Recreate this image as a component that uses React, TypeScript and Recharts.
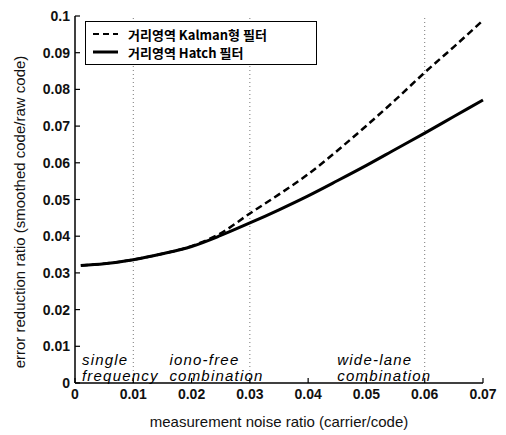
import { Legend, Line, LineChart, ReferenceDot, ReferenceLine, XAxis, YAxis } from 'recharts'

const noiseRatio = [0.001, 0.005, 0.01, 0.015, 0.02, 0.025, 0.03, 0.035, 0.04, 0.045, 0.05, 0.055, 0.06, 0.065, 0.07]
const kalmanRatio = [0.032, 0.0325, 0.0336, 0.0352, 0.0373, 0.0408, 0.0462, 0.0514, 0.0569, 0.0633, 0.0701, 0.0772, 0.0846, 0.0916, 0.0988]
const hatchRatio = [0.032, 0.0325, 0.0336, 0.0352, 0.0372, 0.0402, 0.0436, 0.0472, 0.051, 0.0551, 0.0593, 0.0637, 0.0681, 0.0726, 0.0771]

const xTicks = [0, 0.01, 0.02, 0.03, 0.04, 0.05, 0.06, 0.07]
const yTicks = [0, 0.01, 0.02, 0.03, 0.04, 0.05, 0.06, 0.07, 0.08, 0.09, 0.1]
const gridAt = [0.01, 0.03, 0.06]

const legendItems = [
  { name: '거리영역 Kalman형 필터', dash: '6 4' },
  { name: '거리영역 Hatch 필터', dash: undefined },
]

// region notes: [x, y of first line, line1, line2]
const notes: Array<[number, number, string, string]> = [
  [0.0012, 0.0048, 'single', 'frequency'],
  [0.0162, 0.0048, 'iono-free', 'combination'],
  [0.045, 0.0048, 'wide-lane', 'combination'],
]

const data = noiseRatio.map((x, i) => ({ x, kalman: kalmanRatio[i], hatch: hatchRatio[i] }))

const font = '"Liberation Sans", Arial, sans-serif'
const tickFont = { fontFamily: font, fontSize: 14, fontWeight: 700, fill: '#111' }
const fmt = (v: number) => (v === 0 ? '0' : String(Number(v.toFixed(2))))

const LeftTick = (p: any) => (
  <g>
    <line x1={p.x + 5} x2={p.x + 10} y1={p.y} y2={p.y} stroke="#000" strokeWidth={1.2} />
    <text x={p.x} y={p.y} dy={5} textAnchor="end" {...tickFont}>{fmt(p.payload.value)}</text>
  </g>
)
const BottomTick = (p: any) => (
  <g>
    <line x1={p.x} x2={p.x} y1={p.y - 5} y2={p.y - 10} stroke="#000" strokeWidth={1.2} />
    <text x={p.x} y={p.y} dy={11} textAnchor="middle" {...tickFont}>{fmt(p.payload.value)}</text>
  </g>
)
const RightTick = (p: any) => <line x1={p.x} x2={p.x - 5} y1={p.y} y2={p.y} stroke="#000" strokeWidth={1.2} />
const TopTick = (p: any) => <line x1={p.x} x2={p.x} y1={p.y} y2={p.y + 5} stroke="#000" strokeWidth={1.2} />

const LegendBox = () => (
  <div style={{ border: '1.5px solid #000', background: '#fff', width: 224, padding: '3px 0 3px 6px', fontFamily: '"Noto Sans CJK KR", sans-serif', fontSize: 13, fontWeight: 700 }}>
    {legendItems.map((it) => (
      <div key={it.name} style={{ display: 'flex', alignItems: 'center', height: 18 }}>
        <svg width={32} height={10}>
          <line x1={1} x2={26} y1={5} y2={5} stroke="#000" strokeWidth={it.dash ? 2 : 3} strokeDasharray={it.dash} />
        </svg>
        <span style={{ marginLeft: 4 }}>{it.name}</span>
      </div>
    ))}
  </div>
)

const Note = (text1: string, text2: string) => (p: any) => (
  <text x={p.cx} y={p.cy} fontFamily={font} fontSize={15} fontStyle="italic" letterSpacing={1.2} fill="#000">
    <tspan x={p.cx}>{text1}</tspan>
    <tspan x={p.cx} dy={16}>{text2}</tspan>
  </text>
)

export default function App() {
  return (
    <div style={{ position: 'absolute', left: 0, top: 0, background: '#fff' }}>
      <LineChart width={506} height={435} data={data} margin={{ top: 16, right: 23, bottom: 22, left: 15 }}>
        <XAxis dataKey="x" type="number" domain={[0, 0.07]} ticks={xTicks} height={30} tickSize={0} tickMargin={5}
          tickLine={false} axisLine={{ stroke: '#000', strokeWidth: 1.5 }} tick={BottomTick} interval={0}
          label={{ value: 'measurement noise ratio (carrier/code)', position: 'insideBottom', offset: -14, fontFamily: font, fontSize: 15, fill: '#111' }} />
        <XAxis xAxisId="top" orientation="top" dataKey="x" type="number" domain={[0, 0.07]} ticks={xTicks} height={0}
          tickSize={0} tickMargin={0} tickLine={false} axisLine={{ stroke: '#000', strokeWidth: 1.5 }} tick={TopTick} interval={0} />
        <YAxis type="number" domain={[0, 0.1]} ticks={yTicks} width={60} tickSize={0} tickMargin={5} tickLine={false}
          axisLine={{ stroke: '#000', strokeWidth: 1.5 }} tick={LeftTick} interval={0}
          label={{ content: () => (
            <text x={21} y={212} transform="rotate(-90 21 212)" textAnchor="middle" dominantBaseline="middle" fontFamily={font} fontSize={15} fill="#111">
              error reduction ratio (smoothed code/raw code)
            </text>
          ) }} />
        <YAxis yAxisId="right" orientation="right" type="number" domain={[0, 0.1]} ticks={yTicks} width={0} tickSize={0}
          tickMargin={0} tickLine={false} axisLine={{ stroke: '#000', strokeWidth: 1.5 }} tick={RightTick} interval={0} />
        {gridAt.map((g) => (
          <ReferenceLine key={g} x={g} stroke="#777" strokeDasharray="1 3" />
        ))}
        {notes.map(([x, y, a, b]) => (
          <ReferenceDot key={a} x={x} y={y} r={0} shape={Note(a, b)} />
        ))}
        <Legend layout="horizontal" verticalAlign="middle" align="center" content={LegendBox}
          wrapperStyle={{ left: 85, top: 21, width: 'auto', height: 'auto' }} />
        <Line type="monotone" dataKey="kalman" name={legendItems[0].name} stroke="#000" strokeWidth={2.5} strokeDasharray="7 4" dot={false} isAnimationActive={false} />
        <Line type="monotone" dataKey="hatch" name={legendItems[1].name} stroke="#000" strokeWidth={3} dot={false} isAnimationActive={false} />
      </LineChart>
    </div>
  )
}
